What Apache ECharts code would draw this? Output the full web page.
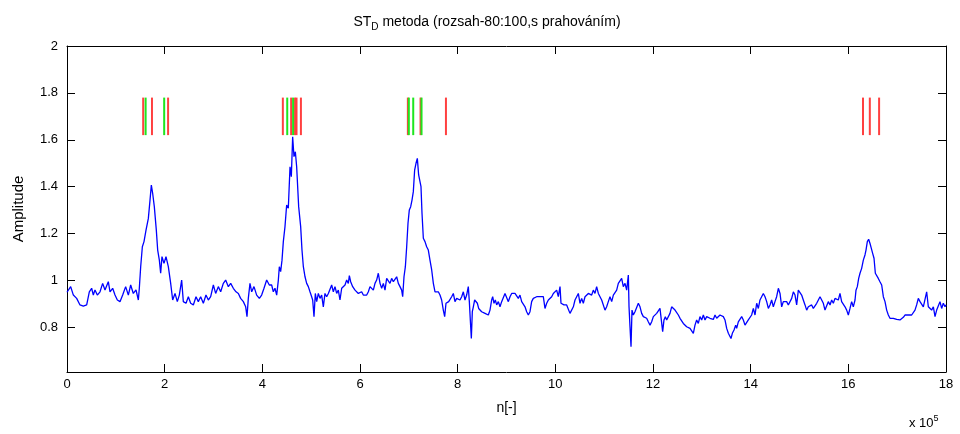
<!DOCTYPE html>
<html>
<head>
<meta charset="utf-8">
<script src="https://cdn.jsdelivr.net/npm/echarts@6/dist/echarts.min.js"></script>
<style>
  html, body { margin: 0; padding: 0; background: #fff; }
  #chart { width: 960px; height: 434px; }
</style>
</head>
<body>
<div id="chart"></div>
<script>
// Sample position n (in units of 1e5) and the ST_D amplitude at that position
const nPos = [
  0.000,0.075,0.130,0.198,0.266,0.334,0.403,0.457,0.505,0.539,0.573,0.621,0.676,0.730,0.778,0.846,0.881,0.935,0.983,1.031,
  1.085,1.140,1.201,1.256,1.304,1.358,1.413,1.461,1.481,1.509,1.543,1.577,1.618,1.666,1.700,1.727,1.754,1.788,1.829,1.857,
  1.891,1.918,1.945,1.986,2.027,2.075,2.123,2.164,2.212,2.259,2.300,2.348,2.382,2.437,2.485,2.532,2.587,2.642,2.689,2.737,
  2.792,2.846,2.894,2.942,2.997,3.044,3.099,3.147,3.201,3.249,3.304,3.352,3.406,3.461,3.509,3.556,3.611,3.659,3.686,3.713,
  3.747,3.782,3.829,3.884,3.939,3.986,4.034,4.089,4.143,
  4.191,4.225,4.259,4.294,4.328,4.348,4.375,4.403,4.430,4.464,4.498,4.532,4.567,4.594,4.621,4.648,4.676,4.703,4.744,4.785,
  4.812,4.840,4.874,4.908,4.942,4.976,5.010,5.031,5.058,5.085,5.113,5.147,5.181,5.215,5.249,5.283,5.317,5.352,5.386,5.420,
  5.454,5.488,5.522,5.556,5.590,5.625,5.659,5.693,5.727,5.761,5.782,5.809,5.850,5.898,5.932,5.966,6.000,6.034,6.068,6.102,
  6.137,6.171,6.205,6.239,6.273,6.307,6.341,6.375,6.410,6.444,6.478,6.512,6.546,6.580,6.614,6.648,6.683,6.717,6.751,6.785,
  6.819,6.853,6.874,6.901,6.929,6.956,6.983,7.010,7.038,7.065,7.092,7.119,7.147,7.174,7.201,7.229,7.249,7.270,7.297,7.331,
  7.365,7.399,7.433,7.468,7.502,7.536,7.570,7.604,7.638,7.672,7.706,7.734,7.761,7.788,7.816,7.843,7.877,7.911,7.945,7.980,
  8.014,8.048,8.082,8.116,8.150,8.184,8.218,8.239,8.259,8.280,8.300,8.321,8.348,8.375,8.403,8.430,8.457,8.491,8.526,8.560,
  8.594,8.628,
  8.662,8.696,8.717,8.744,8.771,8.799,8.833,8.867,8.901,8.935,8.969,9.003,9.038,9.072,9.106,9.140,9.174,9.208,9.242,9.276,
  9.311,9.345,9.379,9.413,9.447,9.481,9.515,9.549,9.584,9.618,9.652,9.686,9.720,9.754,9.788,9.823,9.857,9.891,9.925,9.959,
  9.993,10.027,10.061,10.096,10.116,10.150,10.177,10.205,10.232,10.266,10.300,10.334,10.369,10.403,10.437,10.471,10.505,10.539,10.573,10.608,
  10.642,10.676,10.710,10.744,10.778,10.812,10.846,10.881,10.915,10.949,10.983,11.017,11.051,11.085,11.119,11.154,11.188,11.222,11.256,11.290,
  11.324,11.358,11.392,11.427,11.461,11.495,11.509,11.529,11.550,11.570,11.597,11.631,11.666,11.700,11.734,11.768,11.802,11.836,11.870,11.904,
  11.939,11.973,12.007,12.041,12.075,12.109,12.143,12.177,12.198,12.225,12.253,12.280,12.314,12.348,12.382,12.416,12.451,12.485,12.519,12.553,
  12.587,12.621,12.655,12.689,12.724,12.758,12.792,12.826,12.860,12.894,12.928,12.962,12.997,13.031,13.065,13.099,13.133,
  13.167,13.201,13.235,13.270,13.304,13.338,13.372,13.406,13.440,13.474,13.509,13.543,13.577,13.597,13.625,13.659,13.693,13.713,13.747,13.782,
  13.816,13.850,13.884,13.918,13.952,13.986,14.020,14.055,14.089,14.123,14.157,14.191,14.225,14.259,14.294,14.328,14.362,14.396,14.430,14.464,
  14.498,14.532,14.567,14.601,14.635,14.669,14.703,14.737,14.771,14.805,14.840,14.874,14.908,14.942,14.976,15.010,15.044,15.078,15.113,15.147,
  15.181,15.215,15.249,15.283,15.317,15.352,15.386,15.420,15.454,15.488,15.522,15.556,15.590,15.625,15.659,15.693,15.727,15.761,15.795,15.829,
  15.863,15.898,15.932,15.966,16.000,16.034,16.068,16.102,16.137,16.157,16.184,16.212,16.239,16.273,16.307,16.341,16.362,16.389,16.416,16.444,
  16.471,16.498,16.526,16.553,16.580,16.614,16.648,16.683,16.717,16.751,16.785,16.819,16.853,16.887,16.922,16.956,16.990,17.024,17.058,17.092,
  17.126,17.160,17.195,17.229,17.263,17.297,17.331,17.365,17.399,17.433,17.468,17.502,17.536,17.570,17.604,17.638,17.672,17.706,17.741,17.775,
  17.809,17.843,17.877,17.911,17.945,17.980,18.000
];

const amplitude = [
  0.950,0.974,0.938,0.924,0.896,0.891,0.896,0.952,0.967,0.938,0.960,0.938,0.952,0.988,0.960,0.995,0.952,0.967,0.938,0.917,
  0.910,0.938,0.974,0.938,0.981,0.945,0.960,0.917,0.967,1.059,1.144,1.166,1.215,1.265,1.343,1.407,1.372,1.315,1.215,1.130,
  1.087,1.031,1.102,1.073,1.102,1.059,0.988,0.917,0.945,0.910,0.938,1.002,0.910,0.903,0.931,0.903,0.896,0.931,0.910,0.931,
  0.903,0.938,0.917,0.931,0.981,0.945,0.974,0.952,0.988,1.002,0.974,0.988,0.967,0.952,0.945,0.924,0.910,0.888,0.846,0.924,
  0.988,0.952,0.974,0.938,0.924,0.938,0.967,1.002,0.981,
  0.981,0.952,0.967,0.938,1.002,1.059,1.038,1.087,1.166,1.230,1.322,1.308,1.485,1.443,1.613,1.528,1.549,1.485,1.315,1.230,
  1.130,1.059,1.016,0.988,0.974,0.952,0.931,0.917,0.846,0.945,0.910,0.945,0.924,0.938,0.888,0.945,0.931,0.945,0.938,0.981,
  0.952,0.974,0.945,0.959,0.917,0.967,0.967,0.981,1.002,0.988,1.021,0.995,0.974,0.959,0.967,0.945,0.938,0.952,0.938,0.931,
  0.938,0.952,0.974,0.967,0.959,0.988,1.002,1.031,0.988,0.967,0.988,0.959,1.009,1.016,0.988,1.009,0.995,0.988,1.016,0.988,
  0.974,0.959,0.931,1.016,1.059,1.144,1.244,1.301,1.315,1.343,1.379,1.471,1.500,1.521,1.450,1.450,1.400,1.286,1.180,1.166,
  1.144,1.130,1.087,1.045,0.988,0.952,0.945,0.952,0.938,0.917,0.874,0.846,0.903,0.896,0.910,0.917,0.931,0.945,0.910,0.924,
  0.917,0.917,0.931,0.952,0.917,0.938,0.974,0.910,0.832,0.753,0.867,0.888,0.917,0.910,0.903,0.881,0.888,0.867,0.874,0.860,
  0.867,0.853,
  0.874,0.917,0.931,0.903,0.917,0.896,0.910,0.888,0.910,0.903,0.945,0.938,0.910,0.931,0.945,0.948,0.945,0.938,0.924,0.938,
  0.910,0.917,0.888,0.867,0.853,0.867,0.910,0.924,0.917,0.931,0.924,0.931,0.924,0.931,0.881,0.903,0.917,0.924,0.931,0.945,
  0.938,0.959,0.931,0.974,0.903,0.910,0.896,0.903,0.896,0.888,0.860,0.853,0.888,0.917,0.910,0.945,0.903,0.924,0.903,0.931,
  0.924,0.945,0.952,0.938,0.959,0.945,0.974,0.945,0.931,0.917,0.910,0.874,0.888,0.910,0.931,0.910,0.938,0.931,0.959,0.988,
  0.995,1.009,0.974,0.988,0.959,1.023,0.888,0.803,0.718,0.874,0.853,0.867,0.874,0.903,0.888,0.860,0.846,0.853,0.839,0.824,
  0.810,0.824,0.846,0.839,0.860,0.867,0.881,0.874,0.782,0.832,0.846,0.832,0.839,0.860,0.888,0.896,0.874,0.867,0.853,0.839,
  0.832,0.817,0.810,0.803,0.800,0.796,0.789,0.775,0.810,0.832,0.817,0.846,0.832,0.853,0.832,0.846,0.839,
  0.839,0.846,0.834,0.853,0.839,0.846,0.853,0.853,0.846,0.832,0.796,0.775,0.768,0.753,0.775,0.789,0.810,0.796,0.824,0.817,
  0.846,0.832,0.810,0.817,0.832,0.839,0.853,0.881,0.853,0.903,0.881,0.917,0.924,0.945,0.931,0.910,0.881,0.896,0.917,0.888,
  0.910,0.931,0.967,0.945,0.888,0.910,0.903,0.910,0.896,0.903,0.924,0.952,0.938,0.896,0.959,0.952,0.938,0.917,0.896,0.874,
  0.888,0.881,0.896,0.881,0.888,0.903,0.917,0.931,0.917,0.903,0.874,0.881,0.910,0.896,0.917,0.903,0.924,0.931,0.917,0.945,
  0.910,0.903,0.888,0.874,0.853,0.881,0.910,0.888,0.917,0.959,0.974,1.009,1.031,1.052,1.087,1.109,1.130,1.166,1.176,1.158,
  1.137,1.116,1.095,1.031,1.023,1.009,0.995,0.981,0.931,0.910,0.874,0.853,0.839,0.846,0.839,0.839,0.834,0.832,0.832,0.834,
  0.843,0.853,0.860,0.853,0.860,0.853,0.860,0.874,0.896,0.924,0.910,0.917,0.888,0.896,0.952,0.888,0.881,0.874,0.888,0.846,
  0.874,0.881,0.910,0.881,0.903,0.888,0.896
];

// Detection marks (n in units of 1e5), drawn as short vertical strokes
const redMarks = [1.56, 1.74, 2.07, 4.42, 4.59, 4.67, 4.70, 4.79, 6.98, 7.24, 7.76, 16.30, 16.44, 16.63];
const greenMarks = [1.61, 1.99, 4.51, 4.63, 7.00, 7.09, 7.26];
const markLow = 1.62;
const markHigh = 1.78;

const yTicks = [0.8, 1, 1.2, 1.4, 1.6, 1.8, 2];

const FONT = "'Liberation Sans', Arial, sans-serif";

const signal = nPos.map((n, i) => [n, amplitude[i]]);

function markRenderer(color) {
  return function (params, api) {
    const x = api.value(0);
    const p1 = api.coord([x, markLow]);
    const p2 = api.coord([x, markHigh]);
    return {
      type: 'line',
      shape: { x1: p1[0], y1: p1[1], x2: p2[0], y2: p2[1] },
      style: { stroke: color, lineWidth: 2 }
    };
  };
}

const axisCommon = {
  axisLine: { show: true, onZero: false, lineStyle: { color: '#000', width: 1 } },
  axisTick: { show: true, inside: true, length: 8, lineStyle: { color: '#000' } },
  splitLine: { show: false }
};

const chart = echarts.init(document.getElementById('chart'), null, { renderer: 'canvas' });
chart.setOption({
  animation: false,
  backgroundColor: '#fff',
  title: {
    text: 'ST{sub|D} metoda (rozsah-80:100,s prahováním)',
    left: 482,
    top: 7,
    textAlign: 'center',
    textStyle: {
      fontFamily: FONT,
      fontSize: 14,
      fontWeight: 'normal',
      color: '#000',
      rich: {
        sub: { fontSize: 10, padding: [10, 0, 0, 0], fontFamily: FONT }
      }
    }
  },
  graphic: [{
    type: 'text',
    left: 909,
    top: 414,
    style: {
      text: 'x 10{sup|5}',
      fontFamily: FONT,
      fontSize: 13,
      fill: '#000',
      rich: { sup: { fontSize: 9, padding: [0, 0, 9, 0], fontFamily: FONT } }
    }
  }],
  grid: { left: 67, right: 14, top: 46, bottom: 62 },
  xAxis: [
    Object.assign({}, axisCommon, {
      type: 'value', min: 0, max: 18, interval: 2, position: 'bottom',
      name: 'n[-]', nameLocation: 'middle', nameGap: 29,
      nameTextStyle: { fontFamily: FONT, fontSize: 14, color: '#000' },
      axisLabel: { color: '#000', fontFamily: FONT, fontSize: 13, margin: 6 }
    }),
    Object.assign({}, axisCommon, {
      type: 'value', min: 0, max: 18, interval: 2, position: 'top',
      axisLabel: { show: false }
    })
  ],
  yAxis: [
    Object.assign({}, axisCommon, {
      type: 'value', min: 0.61, max: 2, position: 'left',
      name: 'Amplitude', nameLocation: 'middle', nameGap: 41,
      nameTextStyle: { fontFamily: FONT, fontSize: 15, color: '#000' },
      axisTick: Object.assign({}, axisCommon.axisTick, { customValues: yTicks }),
      axisLabel: { color: '#000', fontFamily: FONT, fontSize: 13, margin: 9, customValues: yTicks }
    }),
    Object.assign({}, axisCommon, {
      type: 'value', min: 0.61, max: 2, position: 'right',
      axisTick: Object.assign({}, axisCommon.axisTick, { customValues: yTicks }),
      axisLabel: { show: false, customValues: yTicks }
    })
  ],
  series: [
    {
      type: 'line',
      data: signal,
      showSymbol: false,
      symbol: 'none',
      lineStyle: { color: '#0000ff', width: 1.3 },
      silent: true,
      z: 3
    },
    {
      type: 'custom',
      data: redMarks.map(v => [v]),
      encode: { x: 0 },
      renderItem: markRenderer('#ff4040'),
      silent: true,
      z: 4
    },
    {
      type: 'custom',
      data: greenMarks.map(v => [v]),
      encode: { x: 0 },
      renderItem: markRenderer('#1ee61e'),
      silent: true,
      z: 5
    }
  ]
});
</script>
</body>
</html>
